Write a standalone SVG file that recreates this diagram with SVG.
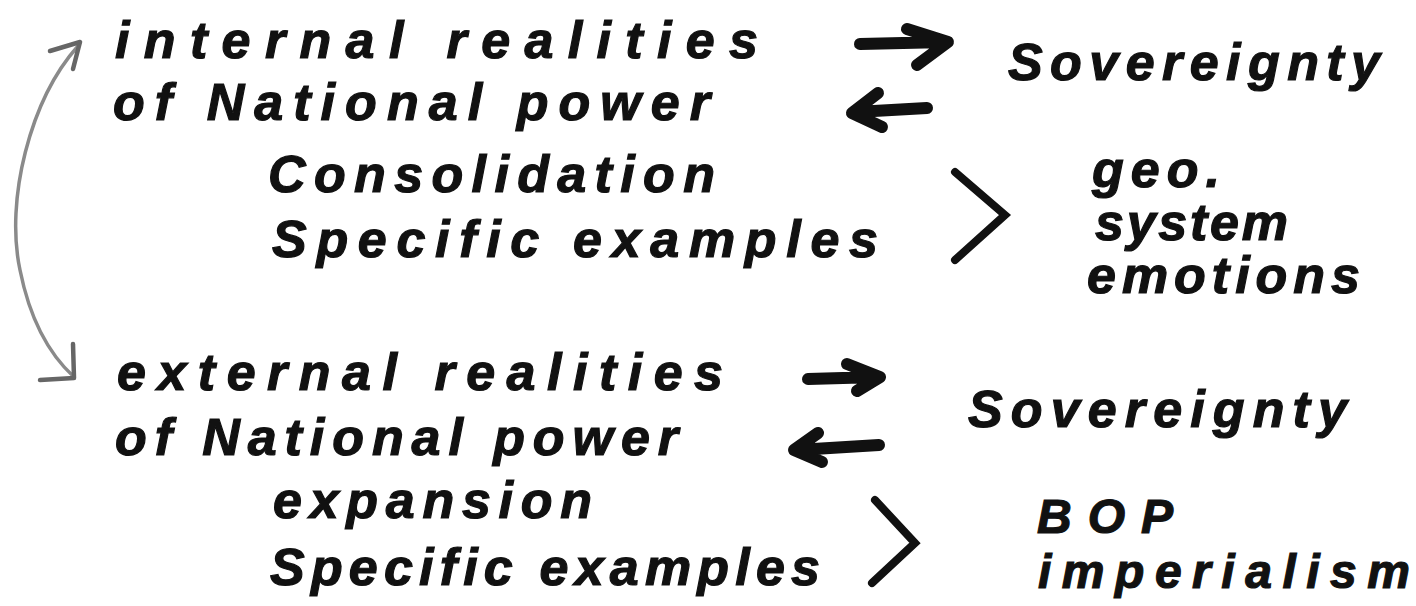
<svg xmlns="http://www.w3.org/2000/svg" width="1416" height="606" viewBox="0 0 1416 606">
<style>
.t{font-family:"Liberation Sans","DejaVu Sans",sans-serif;font-weight:bold;font-style:italic;font-size:52px;fill:#111;stroke:#111;stroke-width:1.2;}
.s{font-size:48px;}
.arr{fill:none;stroke:#111;stroke-width:12;stroke-linecap:round;stroke-linejoin:round;}
.chev{fill:none;stroke:#111;stroke-width:8;stroke-linecap:round;stroke-linejoin:miter;}
.curve{fill:none;stroke:#8a8a8a;stroke-width:3.5;stroke-linecap:round;stroke-linejoin:round;}
.curvehead{fill:none;stroke:#666;stroke-width:4.5;stroke-linecap:round;stroke-linejoin:round;}
</style>
<rect width="1416" height="606" fill="#fff"/>
<g id="internal">
<text class="t" x="115" y="58" textLength="643" lengthAdjust="spacing">internal realities</text>
<text class="t" x="113" y="120" textLength="597" lengthAdjust="spacing">of National power</text>
<text class="t" x="268" y="192" textLength="447" lengthAdjust="spacing">Consolidation</text>
<text class="t" x="272" y="257" textLength="606" lengthAdjust="spacing">Specific examples</text>
</g>
<g id="sovereignty-1">
<text class="t" x="1008" y="80" textLength="372" lengthAdjust="spacing">Sovereignty</text>
</g>
<g id="internal-factors">
<text class="t" x="1092" y="187" textLength="128" lengthAdjust="spacing">geo.</text>
<text class="t" x="1095" y="240" textLength="193" lengthAdjust="spacing">system</text>
<text class="t" x="1087" y="293" textLength="273" lengthAdjust="spacing">emotions</text>
</g>
<g id="external">
<text class="t" x="117" y="390" textLength="606" lengthAdjust="spacing">external realities</text>
<text class="t" x="115" y="455" textLength="563" lengthAdjust="spacing">of National power</text>
<text class="t" x="273" y="518" textLength="319" lengthAdjust="spacing">expansion</text>
<text class="t" x="270" y="585" textLength="550" lengthAdjust="spacing">Specific examples</text>
</g>
<g id="sovereignty-2">
<text class="t" x="968" y="427" textLength="379" lengthAdjust="spacing">Sovereignty</text>
</g>
<g id="external-factors">
<text class="t s" x="1037" y="533" textLength="136" lengthAdjust="spacing">BOP</text>
<text class="t s" x="1038" y="588" textLength="372" lengthAdjust="spacing">imperialism</text>
</g>
<g id="connectors">
<path class="curve" d="M78,46 C30,100 5,200 20,270 C30,320 50,355 74,377"/>
<path class="curvehead" d="M50,51 L80,42 L73,69"/>
<path class="curvehead" d="M73,344 L74,378 L40,380"/>
<path class="arr" d="M860,44 L946,42 M907,29 L948,42 L917,65"/>
<path class="arr" d="M927,108 L856,112 M878,93 L852,113 L882,127"/>
<path class="chev" d="M955,172 L1005,215 L955,260"/>
<path class="arr" d="M808,379 L878,377 M847,364 L880,377 L857,391"/>
<path class="arr" d="M879,445 L797,450 M818,433 L794,450 L822,462"/>
<path class="chev" d="M875,500 L915,543 L872,583"/>
</g>
</svg>
